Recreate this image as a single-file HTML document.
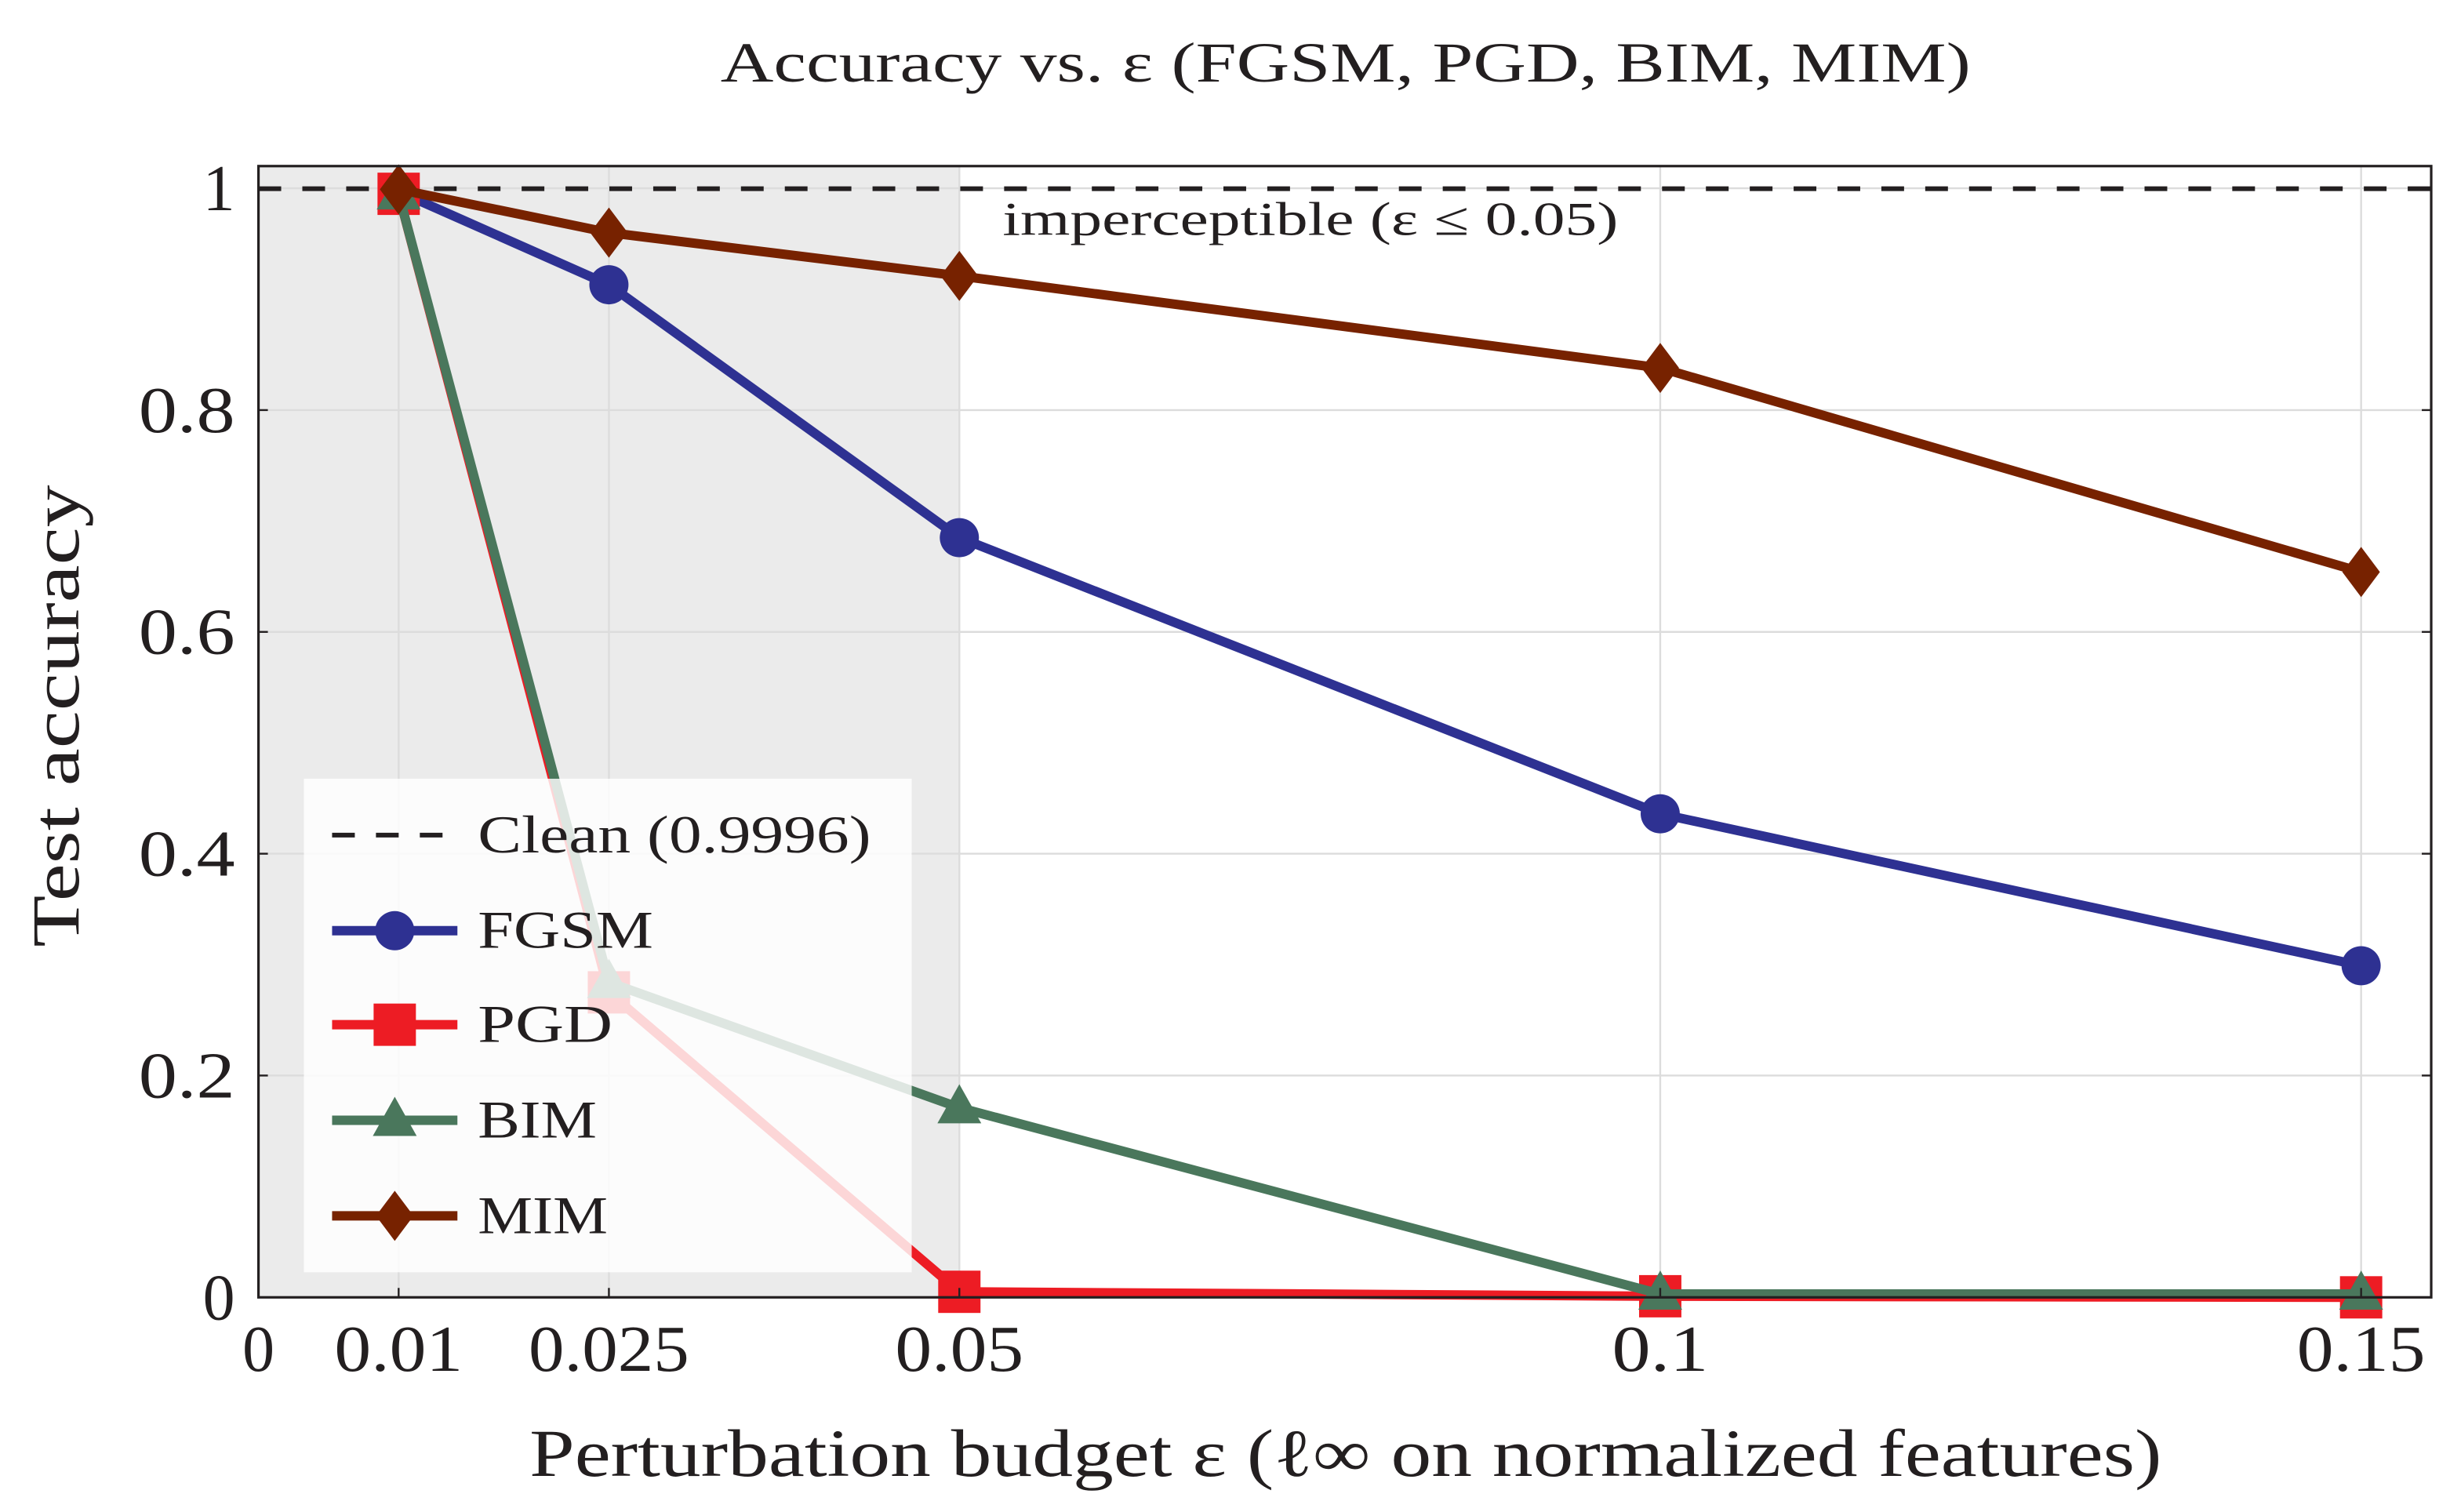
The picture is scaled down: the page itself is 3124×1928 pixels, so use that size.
<!DOCTYPE html>
<html><head><meta charset="utf-8"><style>html,body{margin:0;padding:0;background:#fff}svg{display:block}text{font-family:"Liberation Serif",serif;fill:#231f20}</style></head>
<body>
<svg id="chart" width="3124" height="1928" viewBox="0 0 1564 965" preserveAspectRatio="none" xmlns="http://www.w3.org/2000/svg">
<g id="bg"></g><g id="grid"></g><g id="series"></g><g id="axes"></g><g id="legend"></g>
</svg>
<script>
const epsValues=[0.01,0.025,0.05,0.1,0.15];
const fgsmAcc=[0.997,0.913,0.685,0.436,0.299];
const pgdAcc=[0.995,0.275,0.005,0.001,0.0];
const bimAcc=[0.995,0.284,0.171,0.003,0.003];
const mimAcc=[0.999,0.960,0.921,0.838,0.654];
const cleanAcc=0.9996;
const xTickVals=[0,0.01,0.025,0.05,0.1,0.15];
const xTickLabels=["0","0.01","0.025","0.05","0.1","0.15"];
const yTickVals=[0,0.2,0.4,0.6,0.8,1];
const yTickLabels=["0","0.2","0.4","0.6","0.8","1"];
const seriesNames=["FGSM","PGD","BIM","MIM"];

const L=165,R=1552,T=106,B=828;
const X=v=>L+v*(R-L)/0.155;
const Y=v=>B-v*(B-T)/1.02;
const NS="http://www.w3.org/2000/svg";
function mk(tag,attrs,parent){const e=document.createElementNS(NS,tag);for(const k in attrs)e.setAttribute(k,attrs[k]);parent.appendChild(e);return e;}
function fit(t,w){t.setAttribute('textLength',w);t.setAttribute('lengthAdjust','spacingAndGlyphs');}
const bg=document.getElementById('bg'),grid=document.getElementById('grid'),ser=document.getElementById('series'),ax=document.getElementById('axes'),lg=document.getElementById('legend');

let r=mk('rect',{x:L,y:T,width:X(0.05)-L,height:B-T,fill:'#ebebeb'},bg);



xTickVals.forEach((v,i)=>{ if(v>0){let g=mk('line',{x1:X(v),x2:X(v),y1:T,y2:B,stroke:'#dcdcdc','stroke-width':1.2},grid);

}
let t=mk('text',{x:X(v),y:875,'text-anchor':'middle','font-size':42},ax);t.textContent=xTickLabels[i];
fit(t,xTickLabels[i].length*20.5);


mk('line',{x1:X(v),x2:X(v),y1:B,y2:B-6,stroke:'#231f20','stroke-width':1.2},ax);
});
yTickVals.forEach((v,i)=>{ if(v>0){let g=mk('line',{x1:L,x2:R,y1:Y(v),y2:Y(v),stroke:'#dcdcdc','stroke-width':1.2},grid);

}
let t=mk('text',{x:150,y:Y(v)+14,'text-anchor':'end','font-size':42},ax);t.textContent=yTickLabels[i];
fit(t,yTickLabels[i].length*20.5);


mk('line',{x1:L,x2:L+6,y1:Y(v),y2:Y(v),stroke:'#231f20','stroke-width':1.2},ax);
mk('line',{x1:R,x2:R-6,y1:Y(v),y2:Y(v),stroke:'#231f20','stroke-width':1.2},ax);
});

let cl=mk('line',{x1:L,x2:R,y1:Y(cleanAcc),y2:Y(cleanAcc),stroke:'#231f20','stroke-width':3,'stroke-dasharray':'14.5,13.5'},ser);


let an=mk('text',{x:640,y:150,'font-size':30},ser);an.textContent='imperceptible (ε ≤ 0.05)';
fit(an,393);



const colors=['#2e3192','#ed1c24','#4a775c','#772200'];
const shapes=['circle','square','triangle','diamond'];
function marker(shape,cx,cy,color,parent){
 if(shape==='circle')return mk('circle',{cx:cx,cy:cy,r:12.5,fill:color},parent);
 if(shape==='square')return mk('rect',{x:cx-13.5,y:cy-13.5,width:27,height:27,fill:color},parent);
 if(shape==='triangle')return mk('polygon',{points:`${cx},${cy-15} ${cx+14},${cy+10} ${cx-14},${cy+10}`,fill:color},parent);
 return mk('polygon',{points:`${cx},${cy-16} ${cx+12},${cy} ${cx},${cy+16} ${cx-12},${cy}`,fill:color},parent);
}
const allData=[fgsmAcc,pgdAcc,bimAcc,mimAcc];
allData.forEach((d,si)=>{
 const pts=d.map((v,i)=>X(epsValues[i])+','+Y(v)).join(' ');
 let pl=mk('polyline',{points:pts,fill:'none',stroke:colors[si],'stroke-width':6,'stroke-linejoin':'round'},ser);
 
 
 d.forEach((v,i)=>{let m=marker(shapes[si],X(epsValues[i]),Y(v),colors[si],ser);
 
 });
});

let fr=mk('rect',{x:L,y:T,width:R-L,height:B-T,fill:'none',stroke:'#231f20','stroke-width':1.6},ax);



let tt=mk('text',{x:859,y:52,'text-anchor':'middle','font-size':36},ax);tt.textContent='Accuracy vs. ε (FGSM, PGD, BIM, MIM)';
fit(tt,798);


let xl=mk('text',{x:859,y:942,'text-anchor':'middle','font-size':43},ax);xl.textContent='Perturbation budget ε (ℓ∞ on normalized features)';
fit(xl,1042);


let yl=mk('text',{x:0,y:0,'text-anchor':'middle','font-size':43,transform:'translate(50,457) rotate(-90)'},ax);yl.textContent='Test accuracy';
fit(yl,295);



let lb=mk('rect',{x:194,y:497,width:388,height:315,fill:'#ffffff','fill-opacity':0.82},lg);


const rows=[533,594,654,715,776];
const legW=[251,112,86,76,83];
let e0=mk('line',{x1:212,x2:292,y1:rows[0],y2:rows[0],stroke:'#231f20','stroke-width':3,'stroke-dasharray':'14.5,13.5'},lg);


let t0=mk('text',{x:305,y:rows[0]+11,'font-size':34},lg);t0.textContent='Clean (0.9996)';
fit(t0,legW[0]);


seriesNames.forEach((n,si)=>{const y=rows[si+1];
 let ln=mk('line',{x1:212,x2:292,y1:y,y2:y,stroke:colors[si],'stroke-width':6},lg);
 
 
 marker(shapes[si],252,y,colors[si],lg);
 let t=mk('text',{x:305,y:y+11,'font-size':34},lg);t.textContent=n;
 fit(t,legW[si+1]);
 
 
});
</script>
</body></html>
